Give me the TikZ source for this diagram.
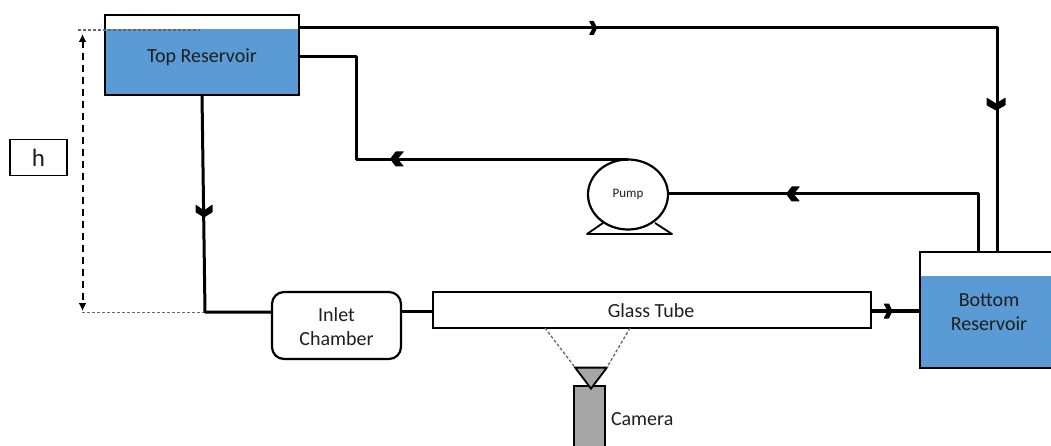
\documentclass[tikz,border=0pt]{standalone}
\usepackage{fontspec}
\setmainfont{Carlito}
\usetikzlibrary{shapes.geometric,arrows.meta}
\definecolor{water}{HTML}{5B9BD5}
\definecolor{cam}{HTML}{A6A6A6}
\definecolor{ink}{HTML}{1E1E1E}
\newcommand{\flowmark}[5]{\fill[black,shift={(#1,#2)},rotate=#3,rounded corners=0.5pt]
  (-#4/2,#5) -- (0.1*#4,#5) -- (#4/2,0) -- (0.1*#4,-#5) -- (-#4/2,-#5) -- (-0.05*#4,0) -- cycle;}
\tikzset{
  every node/.style={outer sep=0pt},
  box/.style={draw=black,line width=2.2pt,inner sep=0pt,align=center,text=ink,font=\fontsize{20}{24}\selectfont},
  thinbox/.style={box,line width=1.6pt},
  waterfill/.style={fill=water,inner sep=0pt,draw=none},
  pipe/.style={line width=3pt,draw=black,line join=round},
  guide/.style={line width=1.3pt,draw=black!60,dash pattern=on 3pt off 2pt},
  dim/.style={line width=2pt,draw=black,dash pattern=on 7pt off 5pt,{Latex[length=8pt,width=8pt]}-{Latex[length=8pt,width=8pt]}},
  label/.style={inner sep=0pt,text=ink,font=\fontsize{20}{24}\selectfont}
}
\begin{document}
\begin{tikzpicture}[x=1pt,y=-1pt]
\useasboundingbox (0,0) rectangle (1051,446);
\clip (0,0) rectangle (1051,446);
% water
\node[waterfill,minimum width=194pt,minimum height=66pt] (topwater) at (202,62) {};
\node[waterfill,minimum width=138pt,minimum height=92pt] (botwater) at (989,322) {};
% tanks
\node[box,minimum width=194pt,minimum height=80pt] (top) at (202,55) {};
\node[label] (toplabel) at (202,57) {Top Reservoir};
\node[box,minimum width=138pt,minimum height=116pt] (bot) at (989,310) {};
\node[label,align=center] (botlabel) at (989,312.5) {Bottom\\Reservoir};
% h
\node[thinbox,line width=1.4pt,minimum width=57pt,minimum height=36pt,font=\fontsize{25}{28}\selectfont] (h) at (38.5,157.5) {h};
% inlet, tube
\node[box,rounded corners=12pt,minimum width=129pt,minimum height=67pt] (inlet) at (336.5,325.5) {};
\node[label,align=center] (inletlabel) at (336.5,326.5) {Inlet\\Chamber};
\node[box,minimum width=438pt,minimum height=36pt] (tube) at (652,310) {};
\node[label] (tubelabel) at (651,311) {Glass Tube};
% pump
\draw[line width=1.8pt,line join=round] (603,223) -- (587,234) -- (672,234) -- (655,223);
\node[draw=black,fill=white,line width=2.2pt,ellipse,minimum width=80pt,minimum height=70pt,inner sep=0pt,font=\fontsize{13}{15}\selectfont,text=ink] (pump) at (628,194.5) {Pump};
% camera
\node[draw=black,fill=cam,line width=1.8pt,minimum width=31pt,minimum height=70pt,inner sep=0pt] (camera) at (589.5,421) {};
\node[draw=black,fill=cam,line width=1.8pt,isosceles triangle,isosceles triangle apex angle=74,shape border rotate=-90,minimum height=21pt,inner sep=0pt] (lens) at (591,375.5) {};
\node[label,anchor=west] (camlabel) at (611,419) {Camera};
% connectors
\coordinate (c1) at (997,28);
\draw[pipe] ([yshift=-13pt]top.north east) -- (c1) -- (c1 |- bot.north);
\coordinate (c2) at (356,57);
\coordinate (c3) at (356,160);
\draw[pipe] ([yshift=-42pt]top.north east) -- (c2) -- (c3) -- (c3 -| pump.north);
\coordinate (c4) at (978,194);
\draw[pipe] (pump.east |- c4) -- (c4) -- (c4 |- bot.north);
\coordinate (c5) at (205,312);
\draw[pipe] (top.south) -- (c5) -- (c5 -| inlet.west);
\draw[pipe] ([yshift=14.5pt]inlet.east) -- ([yshift=-1pt]tube.west);
\draw[line width=3.8pt] ([yshift=-1pt]tube.east) -- ([yshift=-1pt]tube.east -| bot.west);
% h arrow and guides
\coordinate (g1) at (78,30);
\coordinate (g2) at (200,30);
\coordinate (g3) at (82,312.5);
\coordinate (g4) at (204,312.5);
\draw[guide] (g1) -- (g2);
\draw[guide] (g3) -- (g4);
\coordinate (d1) at (82.5,34);
\coordinate (d2) at (82.5,311);
\draw[dim] (d1) -- (d2);
% camera view
\draw[guide] ([xshift=-107pt]tube.south) -- (lens.right corner);
\draw[guide] ([xshift=-22pt]tube.south) -- (lens.left corner);
% flow marks
\flowmark{593}{28}{0}{8}{7}
\flowmark{996}{104}{-90}{13}{9.5}
\flowmark{397}{159}{180}{14}{7.5}
\flowmark{793}{194}{180}{14}{7.5}
\flowmark{204}{211}{-90}{13}{8.5}
\flowmark{888}{311}{0}{9}{7.5}
\end{tikzpicture}
\end{document}
